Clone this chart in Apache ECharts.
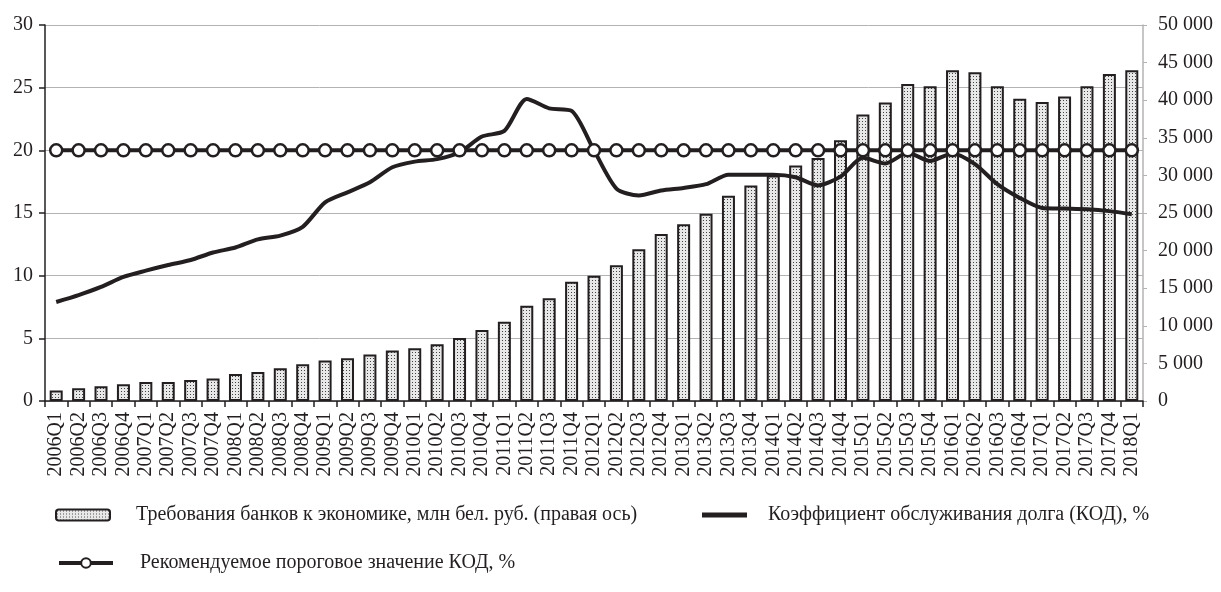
<!DOCTYPE html>
<html>
<head>
<meta charset="utf-8">
<script src="https://cdn.jsdelivr.net/npm/echarts@6/dist/echarts.min.js"></script>
<style>
  html, body { margin: 0; padding: 0; background: #fff; }
  #main { width: 1221px; height: 592px; }
</style>
</head>
<body>
<div id="main"></div>
<script>
// кварталы
const quarters = [];
for (let y = 2006; y <= 2018; y++) {
  for (let q = 1; q <= 4; q++) {
    if (y === 2018 && q > 1) break;
    quarters.push(y + 'Q' + q);
  }
}

// Требования банков к экономике, млн бел. руб. (правая ось)
const claims = [
  1390, 1700, 1970, 2240, 2510, 2510, 2780, 3000,
  3580, 3850, 4350, 4900, 5400, 5700, 6180, 6720,
  7030, 7530, 8380, 9450, 10530, 12650, 13680, 15860,
  16670, 18060, 20170, 22200, 23500, 24900, 27300, 28650,
  30000, 31300, 32300, 34670, 38100, 39700, 42150, 41840,
  43980, 43710, 41840, 40190, 39750, 40500, 41840, 43500,
  43980
];

// Коэффициент обслуживания долга (КОД), %
const kod = [
  7.9, 8.45, 9.1, 9.9, 10.4, 10.85, 11.25, 11.85,
  12.25, 12.9, 13.2, 13.9, 15.85, 16.65, 17.45, 18.65,
  19.1, 19.3, 19.85, 21.1, 21.55, 24.1, 23.35, 23.15,
  20.0, 16.95, 16.4, 16.8, 17.0, 17.3, 18.05, 18.05,
  18.05, 17.85, 17.2, 17.9, 19.4, 18.95, 19.8, 19.15,
  19.75, 18.9, 17.3, 16.2, 15.4, 15.35, 15.3, 15.15,
  14.9
];

// Рекомендуемое пороговое значение КОД, %
const threshold = quarters.map(() => 20);

const leftTicks = { min: 0, max: 30, interval: 5 };
const rightTicks = { min: 0, max: 50000, interval: 5000 };

const nameClaims = 'Требования банков к экономике, млн бел. руб. (правая ось)';
const nameKod = 'Коэффициент обслуживания долга (КОД), %';
const nameThr = 'Рекомендуемое пороговое значение КОД, %';

// точечная заливка столбцов
const pat = document.createElement('canvas');
pat.width = 3; pat.height = 3;
const pctx = pat.getContext('2d');
pctx.fillStyle = '#e8e8e8';
pctx.fillRect(0, 0, 3, 3);
pctx.fillStyle = '#444444';
pctx.fillRect(1, 1, 1, 1);

const ink = '#231f20';
const serif = 'Liberation Serif';

const chart = echarts.init(document.getElementById('main'));

const legendText = (pad) => ({
  fontFamily: serif, fontSize: 20, color: ink, padding: [0, 0, 0, pad]
});

const option = {
  animation: false,
  grid: { left: 45, right: 78, top: 25, bottom: 191, containLabel: false },
  legend: [
    {
      data: [nameClaims],
      left: 50, top: 500,
      itemWidth: 54, itemHeight: 11,
      selectedMode: false,
      textStyle: legendText(21)
    },
    {
      data: [{ name: nameKod, icon: 'rect' }],
      left: 697, top: 500,
      itemWidth: 45, itemHeight: 5,
      selectedMode: false,
      textStyle: legendText(16)
    },
    {
      data: [nameThr],
      left: 52, top: 548,
      itemWidth: 54, itemHeight: 12,
      selectedMode: false,
      lineStyle: { width: 4, color: ink },
      textStyle: legendText(22)
    }
  ],
  xAxis: {
    type: 'category',
    data: quarters,
    boundaryGap: true,
    axisLine: { lineStyle: { color: ink, width: 1.5 } },
    axisTick: { show: true, length: 6, lineStyle: { color: ink, width: 1.5 } },
    axisLabel: {
      interval: 0, rotate: 90, margin: 11,
      fontFamily: serif, fontSize: 20, color: ink
    }
  },
  yAxis: [
    {
      type: 'value',
      min: leftTicks.min, max: leftTicks.max, interval: leftTicks.interval,
      axisLine: { show: true, lineStyle: { color: ink, width: 1.5 } },
      axisTick: { show: true, length: 6, lineStyle: { color: ink, width: 1.5 } },
      splitLine: { show: true, lineStyle: { color: '#b3b3b3', width: 1 } },
      axisLabel: { margin: 12, fontFamily: serif, fontSize: 20, color: ink }
    },
    {
      type: 'value',
      position: 'right',
      min: rightTicks.min, max: rightTicks.max, interval: rightTicks.interval,
      axisLine: { show: true, lineStyle: { color: '#b3b3b3', width: 1.5 } },
      axisTick: { show: true, length: 4, lineStyle: { color: '#b3b3b3' } },
      splitLine: { show: false },
      axisLabel: {
        margin: 15, fontFamily: serif, fontSize: 20, color: ink,
        formatter: v => String(v).replace(/\B(?=(\d{3})+(?!\d))/g, ' ')
      }
    }
  ],
  series: [
    {
      name: nameClaims,
      type: 'bar',
      yAxisIndex: 1,
      data: claims,
      barWidth: '58%',
      itemStyle: {
        color: { image: pat, repeat: 'repeat' },
        borderColor: ink,
        borderWidth: 2
      }
    },
    {
      name: nameKod,
      type: 'line',
      yAxisIndex: 0,
      data: kod,
      symbol: 'none',
      smooth: 0.25,
      lineStyle: { color: ink, width: 4 },
      itemStyle: { color: ink }
    },
    {
      name: nameThr,
      type: 'line',
      yAxisIndex: 0,
      data: threshold,
      symbol: 'circle',
      symbolSize: 12,
      showSymbol: true,
      lineStyle: { color: ink, width: 4 },
      itemStyle: { color: '#ffffff', borderColor: ink, borderWidth: 2.5 }
    }
  ]
};

option && chart.setOption(option);

window.addEventListener('resize', function () {
  chart.resize();
});
</script>
</body>
</html>
